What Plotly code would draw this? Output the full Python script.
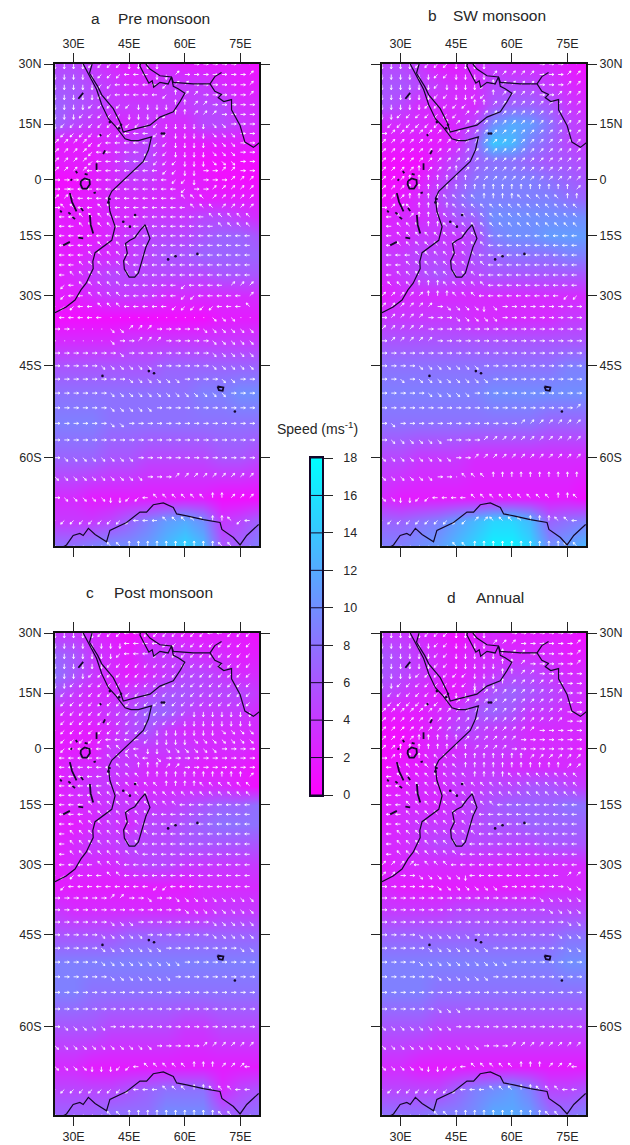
import numpy as np
import plotly.graph_objects as go

LON_TICKS = [30, 45, 60, 75]
LON_LABELS = ["30E", "45E", "60E", "75E"]
LAT_TICKS = [30, 15, 0, -15, -30, -45, -60]
LAT_LABELS = ["30N", "15N", "0", "15S", "30S", "45S", "60S"]
CBAR_TICKS = [0, 2, 4, 6, 8, 10, 12, 14, 16, 18]

# Speed grids (m/s)
GRID_LON = [25, 30, 35, 40, 45, 50, 55, 60, 65, 70, 75, 80]
GRID_LAT = [30, 25, 20, 15, 10, 5, 0, -5, -10, -15, -20, -25, -30, -35, -40, -45, -50, -55, -60, -65, -67.5, -70]

SPEED_A = [
    [5,5,4,3,2,3,3,2,2,2,2,1],[6,6,5,4,3,3,4,4,4,3,2,2],[7,6,5,4,4,4,4,4,5,5,3,3],[7,5,4,3,3,4,3,3,5,5,4,3],
    [2,2,2,3,4,5,3,2,2,2,2,2],[2,2,2,3,5,5,3,2,1,1,1,1],[1,1,2,3,4,4,3,2,2,1,1,1],[1,2,2,3,3,3,3,3,2,2,2,2],
    [2,2,2,3,3,4,4,4,5,5,4,3],[2,2,2,3,4,5,5,5,6,7,7,6],[2,2,3,3,4,5,6,6,7,7,7,7],[2,3,4,5,5,5,5,5,5,6,6,6],
    [2,2,3,4,4,4,3,3,3,3,3,3],[1,1,1,1,1,1,1,1,1,2,2,2],[3,3,3,3,4,4,4,4,4,4,4,4],[6,6,6,6,6,6,7,7,7,7,7,7],
    [8,8,8,8,8,8,8,8,9,9,10,10],[9,9,9,8,8,8,8,8,8,8,8,8],[7,7,7,6,6,5,5,5,5,6,6,5],[3,3,2,2,2,2,2,2,2,1,1,1],
    [4,4,4,5,7,9,11,12,10,4,5,7],[8,8,9,10,10,11,13,15,13,6,7,9]]
SPEED_B = [
    [5,5,4,2,2,3,4,3,3,3,2,1],[6,6,5,4,3,3,5,5,5,4,3,2],[6,5,3,3,3,3,6,7,7,6,4,3],[3,3,3,2,3,5,10,12,11,8,5,4],
    [2,2,2,2,3,7,14,13,9,7,5,4],[1,1,1,3,5,7,8,8,7,6,6,5],[1,1,2,4,6,8,9,9,9,8,7,6],[1,2,3,5,7,9,9,9,9,9,8,7],
    [2,3,3,4,6,7,10,10,10,10,10,10],[3,3,4,4,4,5,9,10,10,11,11,11],[4,4,5,5,4,6,7,8,8,8,9,9],[3,4,5,6,5,5,6,6,6,6,6,6],
    [2,3,3,3,3,3,3,3,3,3,3,3],[4,4,4,4,4,3,3,3,3,3,4,4],[6,6,6,6,6,6,6,6,6,6,6,6],[8,8,8,8,8,8,8,8,8,8,9,9],
    [9,9,9,9,9,9,10,10,10,10,10,10],[8,8,8,8,8,8,8,8,8,7,7,7],[5,5,4,4,4,3,3,3,3,3,3,3],[3,2,2,2,2,2,2,2,2,2,2,1],
    [7,7,8,9,11,13,15,15,13,7,8,9],[9,9,10,11,13,15,17,17,15,10,11,13]]
SPEED_C = [
    [4,4,3,2,1,2,3,2,2,2,2,1],[7,6,4,3,2,4,4,4,3,3,2,2],[8,6,4,3,2,3,4,5,5,4,3,3],[6,4,3,3,4,5,6,6,5,5,5,4],
    [3,3,3,4,5,7,7,5,4,4,4,3],[2,2,2,3,5,6,4,3,3,3,3,3],[2,2,2,4,4,4,4,4,3,3,3,2],[2,3,3,4,4,3,3,3,2,2,2,1],
    [2,3,4,4,3,3,3,3,3,3,2,1],[2,3,3,4,4,4,4,5,6,7,7,8],[2,2,3,4,3,5,5,6,7,8,8,8],[2,3,4,4,5,5,5,6,6,6,6,6],
    [2,3,3,3,4,5,5,4,4,4,4,4],[2,2,2,2,2,2,2,2,3,3,3,3],[4,3,3,3,3,3,3,3,3,4,4,4],[6,6,6,6,7,7,7,7,7,7,7,7],
    [9,9,9,9,9,9,9,9,9,9,9,9],[9,9,8,8,8,8,8,8,8,8,8,8],[6,6,6,5,5,5,5,4,4,5,5,5],[3,3,2,2,2,2,2,2,2,2,2,2],
    [5,5,5,5,6,7,8,8,8,3,5,6],[7,7,7,8,8,8,10,10,10,7,7,8]]
SPEED_D = [
    [4,4,3,2,1,2,3,2,2,2,2,1],[6,5,4,3,2,3,3,3,3,3,2,2],[6,5,4,3,2,3,4,5,5,4,3,3],[5,4,3,2,2,4,6,7,6,5,4,3],
    [2,2,2,3,4,6,7,6,4,4,3,3],[1,1,2,3,5,5,4,4,3,3,3,3],[1,1,2,3,3,4,4,4,3,3,3,2],[1,2,2,3,4,4,4,3,3,3,3,3],
    [2,2,3,3,4,4,5,5,6,6,5,4],[2,3,3,3,4,5,6,7,7,7,8,8],[2,3,4,4,4,5,6,6,7,7,7,7],[3,3,4,5,5,5,5,5,5,6,6,6],
    [2,3,3,3,3,3,3,3,3,3,3,3],[3,2,2,2,2,2,2,2,2,3,3,3],[4,4,4,4,5,5,5,5,5,5,5,5],[7,7,7,7,7,7,7,7,7,7,8,8],
    [9,9,9,9,9,9,9,9,9,9,10,10],[9,9,9,8,8,8,8,8,8,8,8,8],[6,6,6,5,5,5,5,5,5,5,5,5],[3,3,2,2,2,2,2,2,2,2,2,2],
    [5,5,5,5,7,9,10,11,9,5,5,6],[8,8,8,9,9,10,12,12,11,8,8,9]]

# Wind direction per arrow: numpad notation (8=north, 6=east, 2=south, 4=west, 5=calm)
ARROW_LON = [25 + 2.5 * i for i in range(22)]
ARROW_LAT = [30 - 2.5 * i for i in range(41)]

DIR_A = [
 "2222111122229996666699","2222211144422966666669","2222211444441996666669","2222211444441899666669",
 "2222111112222889966666","2221111122221889996666","2111111111112222233666","1111111144411222233366",
 "9999114444411222233366","9999144444111222233366","9999144444411122233366","9999444444441122669966",
 "6666444444444112666999","6644444444444416699999","9974444444444477799999","6774477444444447779999",
 "4447777444444444477777","4447777444444444447777","4444444444444444444444","4444477744444444444444",
 "4444777744444444444444","4447777774444444444444","4477777777444444444444","4147777744444414444999",
 "1144777744444411444449","1114477744444111114447","4444445555555555533355","6655553399966666333333",
 "5555553669996666633333","6666666366666666633333","6666633333366666633333","6666666633333366663366",
 "6666663333333333333666","6666663333366666666666","6666663366666666666666","6666666666666666666666",
 "6333333336666666666666","3333333333666999999999","6333332211477777788999","1111111114447777788714",
 "5555557788888888887755"]
DIR_B = [
 "2222111122229999966699","2222221122229999966699","2222221222218999966699","2222221122118999966999",
 "2222211111889999999999","2211111119999999999999","1111111899999999999999","6999999999999999999999",
 "9999999999999999999999","9999999999999999999999","9999999999999999999999","9999899989999999999999",
 "9998888888999999999999","9998888888888888888889","9998888777788887777788","6997888877777777777777",
 "4479888777777777777777","4477788777777777777777","4477777777774444444444","4477777777774444444444",
 "4444777777744444444444","4447777777774444444444","4477777777744444444444","7777888777774444444444",
 "9999988877744444444411","9999996333323666666666","6999966633333666666666","9999966666666666666666",
 "6999996666666666666666","6666666666666666666666","6666333333366666666666","6636333333336666666666",
 "6666633333666666666666","6666666666666666666669","6366666666666669999999","6333333666699999999999",
 "3333333366999999999999","3333336657778888888888","3322114444777777777887","1111111111997777888774",
 "5555555577888888888877"]
DIR_C = [
 "2222211144111111144111","2222222244441111111111","2222222144411111111111","2222221111111111111111",
 "2222111111111111111111","2211111111111111111111","1111111111111111111111","1111111111111111111111",
 "1111111111111112222222","1111111111111122222222","1111111111122222223333","1111114444122223333333",
 "1144447714223333336666","4444447777436666666666","4444444778889966666666","4444447777888888888889",
 "4444447777778888777777","4444477777777777777777","4444777777777744444444","4444777777744444444444",
 "4447777777444444444444","4477777777744444444444","4477777777444444444444","4477777777444444444444",
 "4444477744444444444444","1114447744444444444444","1144444444411444444444","6666669966366333333333",
 "6666666666666633333333","6666663336666666633333","6666633333666666633333","6666633333336666666633",
 "6666633333333366666666","6666663333333666666666","6666666666666666666666","6666666666666666666666",
 "6333336666666666666666","3333333333366666999999","3333222114777778889994","1111111114447778877744",
 "5555557788888888887755"]
DIR_D = [
 "2222211122229966666669","2222221122229996666669","2222221122222899666669","2222221122222889666669",
 "2222111111222889966666","2211111111222899999666","1111111122899999999966","1111111899999999999966",
 "9999999999999999999966","9999999999999999999966","9999999999999999966666","9999888889999996666666",
 "9988888888999966666666","6988877778888888999999","4477777778888888888899","4477777777888877777777",
 "4447777777777777777777","4447777777777777777777","4447777777777444444444","4447777777744444444444",
 "4447777777444444444444","4477777777744444444444","4477777777444444444444","4477777774444444444444",
 "9999477744444444444444","9966333332444444444499","6666663333333666666633","6666666666666666633333",
 "6666666666666666663333","6666666666666666666633","6666333333666666666333","6666633333336666666633",
 "6666333333333366666666","6666663333336666666666","6666666666666666666666","6666663336666666666666",
 "3333333366666666666666","3333333333366699999999","3333322114777778889994","1111111114447778877744",
 "5555557788888888887755"]

# Coastlines (lon, lat)
AFRICA = [(32.6,30),(34,27.6),(36.2,23.9),(37.6,20),(39.4,16.4),(41.5,14.2),(43,12.4),(43.9,11.1),(45.5,10.6),(47.5,10.6),(51,11.6),
          (50.2,8.1),(48.8,5),(46.5,2.8),(44.3,0.9),(40.3,-3.1),(39.4,-5),(39.8,-8.5),(41.2,-12.6),(40.3,-16.2),(35.8,-19.4),(35.2,-21.6),
          (35.3,-23.4),(33.4,-27),(32,-28.6),(30.4,-31),(28,-32.6),(25.5,-33.8),(25,-33.9)]
SINAI = [(34.3,27.8),(34.6,29),(35,30)]
ARABIA = [(34.3,27.8),(36.5,24.6),(37.6,22.5),(40.7,19),(42.5,15.5),(43.4,12.9),(46.6,13.7),(50.6,14.7),(53.3,16.8),(56.9,18.2),(58.7,20.8),
          (60,22.9),(58.2,24),(56.9,24.6),(56.4,26.9),(55.5,25.2),(53.3,25.6),(51.6,24.4),(51.2,26),(50.3,25.4),(49,27.6),(47.9,29.5),(48,30)]
ASIA = [(49.5,30),(50.6,28.8),(53.3,27.2),(56.4,26.9),(56.9,25.6),(62.3,25.2),(66.8,25.2),(68.1,23.4),(69.9,22.6),(69,21.8),(70.5,20.8),(72.6,21.3),
        (72.6,18.7),(74.9,14.6),(76.2,10.2),(78.5,8.8),(80.3,10.2)]
INDUS = [(66.8,25.2),(68.1,27),(69.9,28)]
MADAGASCAR = [(49.3,-12.1),(50.6,-15.7),(49.5,-18),(47.5,-24.5),(46.5,-25.5),(45,-25.5),(43.7,-23.5),(43.5,-21.5),(44.5,-19.5),(44,-17),
              (45.2,-16.2),(46.5,-15.5),(48,-13.5),(49.3,-12.1)]
ANTARCTICA = [(25,-70.5),(28.1,-69.9),(29.9,-69),(31.7,-68.8),(32.6,-69),(34,-68.3),(35.8,-68.9),(38.9,-69.6),(39.8,-68.5),(44.3,-67.7),(47.9,-66.6),
              (49.7,-66.6),(51.5,-65.8),(54.2,-65.6),(56.9,-66.1),(57.8,-66.8),(60.5,-67),(65,-67.4),(69.5,-67.7),(70,-68.4),(73.1,-69.2),(74.9,-69.9),
              (76.7,-69),(79.9,-67.9)]
VICTORIA = [(32,-0.3),(33,0.4),(34.3,0),(34.4,-1.2),(33.6,-2.4),(32.4,-2.4),(31.9,-1.2),(32,-0.3)]
LAKES = [[(32.6,23),(31.9,22.2),(31.3,21.5)],[(36.2,4.5),(36.2,2.7)],[(38,7),(38.5,8)],[(37.1,12.3),(37.4,11.8)],[(30.6,2.4),(31,1.8)],
         [(29,-3.6),(29.6,-6),(30.8,-8.5)],[(32,-7.6),(32.6,-8.4)],[(26.4,-8.3),(26.8,-8.8)],[(28.6,-8.8),(29.2,-9.3)],[(29.7,-10),(30.4,-10.6)],
         [(34.4,-9.5),(34.6,-12),(35.3,-14.4)],[(27.2,-17.5),(29,-16.6)],[(31.3,-15.5),(32.6,-15.7)],[(29.2,-0.2),(29.6,0.2)],[(33,1.6),(33.8,1.4)],
         [(35.4,-3.6),(36,-3.4)]]
ISLAND_LON = [53.8, 54.4, 43.4, 45.2, 46.6, 55.5, 57.5, 63.4, 51.7, 50.3, 37.8, 73.5, 39.4, 39.7, 39.8, 42.8, 42.3]
ISLAND_LAT = [12.5, 12.5, -11.3, -12.6, -9.5, -21.1, -20.3, -19.7, -46.4, -46.0, -46.9, -53.1, -6.1, -5.2, 15.5, 14.8, 13.9]
KERGUELEN = [(68.8,-48.8),(70.4,-49),(70.2,-49.6),(69.2,-49.5),(68.8,-48.8)]

PANELS = [
    dict(speed=SPEED_A, dirs=DIR_A, letter="a", title="Pre monsoon", lx=95, tx=164, ty=18, box=(55, 259, 64, 546), xs="top", ys="left"),
    dict(speed=SPEED_B, dirs=DIR_B, letter="b", title="SW monsoon", lx=432, tx=499, ty=16, box=(382, 586, 64, 546), xs="top", ys="right"),
    dict(speed=SPEED_C, dirs=DIR_C, letter="c", title="Post monsoon", lx=90, tx=163, ty=592, box=(55, 259, 633, 1115), xs="bottom", ys="left"),
    dict(speed=SPEED_D, dirs=DIR_D, letter="d", title="Annual", lx=451, tx=500, ty=597, box=(382, 586, 633, 1115), xs="bottom", ys="right"),
]

W, H = 630, 1145
FONT = "Liberation Sans"
INK = "#262626"
BEARING = {"8": 90, "9": 45, "6": 0, "3": -45, "2": -90, "1": -135, "4": 180, "7": 135}
ARROW_LEN = 1.35   # degrees of longitude on the plot
HEAD_LEN = 0.6


def merc(lat):
    return float(np.degrees(np.log(np.tan(np.radians(45 + lat / 2)))))


def arrows(rows):
    xs, ys = [], []
    for lat, row in zip(ARROW_LAT, rows):
        y = merc(lat)
        for lon, ch in zip(ARROW_LON, row):
            if ch == "5":
                xs += [lon, lon + 0.25, None]
                ys += [y, y, None]
                continue
            a = np.radians(BEARING[ch])
            tx, ty = lon + ARROW_LEN * np.cos(a), y + ARROW_LEN * np.sin(a)
            xs += [lon, tx, None]
            ys += [y, ty, None]
            for da in (150, -150):
                b = a + np.radians(da)
                xs += [tx, tx + HEAD_LEN * np.cos(b), None]
                ys += [ty, ty + HEAD_LEN * np.sin(b), None]
    return xs, ys


def path(segments):
    xs, ys = [], []
    for seg in segments:
        xs += [p[0] for p in seg] + [None]
        ys += [merc(p[1]) for p in seg] + [None]
    return xs, ys


fig = go.Figure()
layout = dict(
    width=W, height=H, autosize=False, margin=dict(l=0, r=0, t=0, b=0, pad=0, autoexpand=False),
    paper_bgcolor="white", plot_bgcolor="white", showlegend=False,
    font=dict(family=FONT, size=12.5, color=INK),
    coloraxis=dict(cmin=0, cmax=18, showscale=False,
                   colorscale=[[0, "#ff00ff"], [1, "#00ffff"]]),
)
annotations = []
grid_y = [merc(v) for v in GRID_LAT]
coast_x, coast_y = path([AFRICA, SINAI, ARABIA, ASIA, INDUS, MADAGASCAR, ANTARCTICA])
lake_x, lake_y = path([VICTORIA] + LAKES + [KERGUELEN])

for i, p in enumerate(PANELS):
    n = i + 1
    sx = "" if n == 1 else str(n)
    x0, x1, y0, y1 = p["box"]
    fig.add_trace(go.Heatmap(x=GRID_LON, y=grid_y, z=p["speed"], coloraxis="coloraxis", zsmooth="best",
                             xaxis="x" + sx, yaxis="y" + sx, hoverinfo="skip"))
    ax, ay = arrows(p["dirs"])
    fig.add_trace(go.Scatter(x=ax, y=ay, mode="lines", line=dict(color="rgba(255,255,255,0.85)", width=1),
                             xaxis="x" + sx, yaxis="y" + sx, hoverinfo="skip"))
    fig.add_trace(go.Scatter(x=coast_x, y=coast_y, mode="lines", line=dict(color="#14082a", width=1.2),
                             xaxis="x" + sx, yaxis="y" + sx, hoverinfo="skip"))
    fig.add_trace(go.Scatter(x=lake_x, y=lake_y, mode="lines", line=dict(color="#14082a", width=1.8),
                             xaxis="x" + sx, yaxis="y" + sx, hoverinfo="skip"))
    fig.add_trace(go.Scatter(x=ISLAND_LON, y=[merc(v) for v in ISLAND_LAT], mode="markers",
                             marker=dict(color="#14082a", size=2.6), xaxis="x" + sx, yaxis="y" + sx, hoverinfo="skip"))
    common = dict(showgrid=False, zeroline=False, ticks="outside", ticklen=9, tickwidth=1, tickcolor=INK,
                  showline=True, linewidth=2, linecolor="#111111", mirror="ticks",
                  tickfont=dict(family=FONT, size=12.5, color=INK))
    layout["xaxis" + sx] = dict(common, domain=[x0 / W, x1 / W], range=[25, 80], side=p["xs"], anchor="y" + sx,
                                tickvals=LON_TICKS, ticktext=LON_LABELS)
    layout["yaxis" + sx] = dict(common, domain=[1 - y1 / H, 1 - y0 / H], range=[merc(-70), merc(30)], side=p["ys"],
                                anchor="x" + sx, tickvals=[merc(v) for v in LAT_TICKS], ticktext=LAT_LABELS)
    for text, cx in ((p["letter"], p["lx"]), (p["title"], p["tx"])):
        annotations.append(dict(text=text, x=cx / W, y=1 - p["ty"] / H, xref="paper", yref="paper", showarrow=False,
                                xanchor="center", yanchor="middle", font=dict(family=FONT, size=15.5, color=INK)))

# Colour key
fig.add_trace(go.Heatmap(x=[0, 1], y=CBAR_TICKS, z=[[t, t] for t in CBAR_TICKS], coloraxis="coloraxis", zsmooth="best",
                         xaxis="x5", yaxis="y5", hoverinfo="skip"))
key_x, key_y = [], []
for t in CBAR_TICKS:
    key_x += [0, 1, None]
    key_y += [t, t, None]
fig.add_trace(go.Scatter(x=key_x, y=key_y, mode="lines", line=dict(color="#14082a", width=1), xaxis="x5", yaxis="y5", hoverinfo="skip"))
layout["xaxis5"] = dict(domain=[311 / W, 322 / W], range=[0, 1], showticklabels=False, ticks="", showgrid=False, zeroline=False,
                        showline=True, linewidth=1.5, linecolor="#14082a", mirror=True, anchor="y5")
layout["yaxis5"] = dict(domain=[1 - 795 / H, 1 - 458 / H], range=[0, 18], side="right", anchor="x5", tickvals=CBAR_TICKS,
                        ticks="outside", ticklen=9, tickwidth=1, tickcolor=INK, showgrid=False, zeroline=False, showline=True,
                        linewidth=1.5, linecolor="#14082a", mirror=True, ticklabelstandoff=8,
                        tickfont=dict(family=FONT, size=12.5, color=INK))
annotations.append(dict(text="Speed (ms<sup>-1</sup>)", x=317 / W, y=1 - 428 / H, xref="paper", yref="paper", showarrow=False,
                        xanchor="center", yanchor="middle", font=dict(family=FONT, size=14, color=INK)))
layout["annotations"] = annotations
fig.update_layout(**layout)
fig.write_html("out.html", config=dict(displayModeBar=False),
               post_script="document.body.style.margin='0';document.documentElement.style.overflow='hidden';")
